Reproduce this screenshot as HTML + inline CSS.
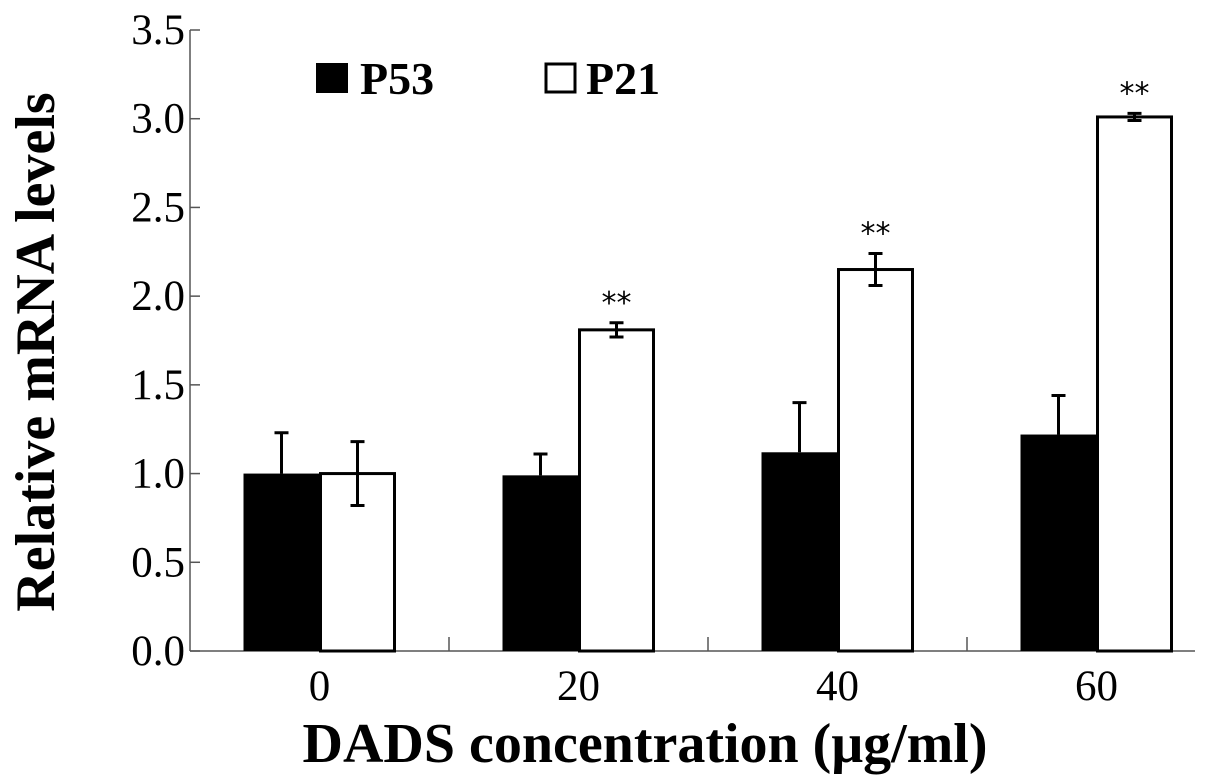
<!DOCTYPE html>
<html><head><meta charset="utf-8"><style>
html,body{margin:0;padding:0;background:#fff;}
svg{display:block;font-family:"Liberation Serif",serif;}
</style></head><body>
<svg id="chart" width="1205" height="783" viewBox="0 0 1205 783"></svg>
<script>
const categories = ["0","20","40","60"];
const p53Values = [1.0, 0.99, 1.12, 1.22];
const p53Errors = [0.23, 0.12, 0.28, 0.22];
const p21Values = [1.0, 1.81, 2.15, 3.01];
const p21Errors = [0.18, 0.04, 0.09, 0.02];
const significance = ["", "**", "**", "**"];
const yTicks = [0,0.5,1.0,1.5,2.0,2.5,3.0,3.5];
const yTickLabels = ["0.0","0.5","1.0","1.5","2.0","2.5","3.0","3.5"];

const NS="http://www.w3.org/2000/svg";
const svg=document.getElementById('chart');
const x0=190, groupW=259, y0=651, yMax=3.5, yTop=30, barW=76;
const yScale=v=>y0-(v/yMax)*(y0-yTop);
const groupCenter=i=>x0+groupW*(i+0.5);
function mk(tag,attrs,parent){const e=document.createElementNS(NS,tag);for(const k in attrs)e.setAttribute(k,attrs[k]);(parent||svg).appendChild(e);return e;}

let ya=mk('line',{x1:x0,y1:yTop,x2:x0,y2:y0,stroke:'#555','stroke-width':1.5});


let xa=mk('line',{x1:x0,y1:y0,x2:1195,y2:y0,stroke:'#555','stroke-width':1.5});



yTicks.forEach((v,i)=>{
  const y=yScale(v);
  let t=mk('line',{x1:x0,y1:y,x2:x0+10,y2:y,stroke:'#555','stroke-width':1.5});
  
  
  let l=mk('text',{x:x0-5,y:y+14,'text-anchor':'end','font-size':43});
  l.textContent=yTickLabels[i];
  
  
});

categories.forEach((c,i)=>{
  const cx=groupCenter(i);
  if(i>0){
    let t=mk('line',{x1:x0+groupW*i,y1:y0,x2:x0+groupW*i,y2:y0-14,stroke:'#555','stroke-width':1.5});
    
    
  }
  let l=mk('text',{x:cx,y:700,'text-anchor':'middle','font-size':43});
  l.textContent=c;
  
  

  const yb=yScale(p53Values[i]);
  let b=mk('rect',{x:cx-barW,y:yb,width:barW,height:y0-yb,fill:'#000'});
  
  
  const bcx=cx-barW/2, ye=yScale(p53Values[i]+p53Errors[i]);
  let e1=mk('path',{d:`M${bcx},${yb} V${ye} M${bcx-7},${ye} H${bcx+7}`,stroke:'#000','stroke-width':3,fill:'none'});
  
  

  const yw=yScale(p21Values[i]);
  let w=mk('rect',{x:cx+1,y:yw,width:barW-2,height:y0-yw,fill:'#fff',stroke:'#000','stroke-width':3});
  
  
  const wcx=cx+barW/2, yh=yScale(p21Values[i]+p21Errors[i]), yl=yScale(p21Values[i]-p21Errors[i]);
  let e2=mk('path',{d:`M${wcx},${yl} V${yh} M${wcx-7},${yh} H${wcx+7} M${wcx-7},${yl} H${wcx+7}`,stroke:'#000','stroke-width':3,fill:'none'});
  
  
  if(significance[i]){
    let s=mk('text',{x:wcx,y:yh-10,'text-anchor':'middle','font-size':30,'font-family':'"DejaVu Sans",sans-serif'});
    s.textContent=significance[i];
    
    
  }
});

let lg=mk('g',{});


let r1=mk('rect',{x:316,y:63,width:32,height:30,fill:'#000'},lg);


let t1=mk('text',{x:360,y:94,'font-size':46,'font-weight':'bold'},lg);
t1.textContent='P53';


let r2=mk('rect',{x:546,y:64,width:29,height:28,fill:'#fff',stroke:'#000','stroke-width':3},lg);


let t2=mk('text',{x:586,y:94,'font-size':46,'font-weight':'bold'},lg);
t2.textContent='P21';



let xt=mk('text',{x:645,y:762,'text-anchor':'middle','font-size':56,'font-weight':'bold'});
xt.textContent='DADS concentration (μg/ml)';


let yt=mk('text',{x:0,y:0,'text-anchor':'middle','font-size':56,'font-weight':'bold',transform:'translate(54,352) rotate(-90)'});
yt.textContent='Relative mRNA levels';


</script>
</body></html>
